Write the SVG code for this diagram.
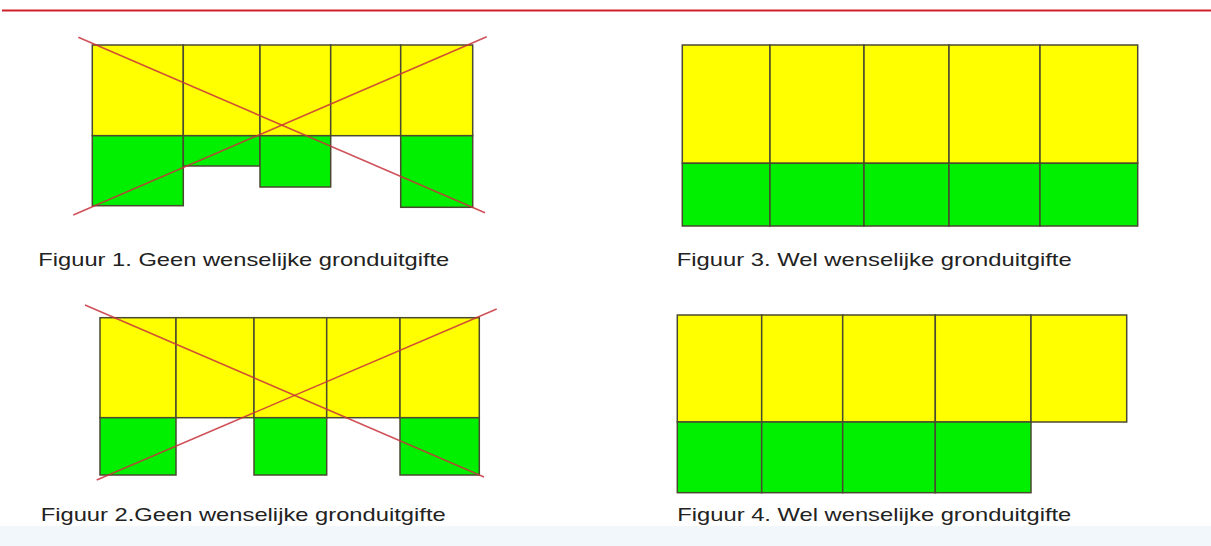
<svg xmlns="http://www.w3.org/2000/svg" width="1211" height="546" viewBox="0 0 1211 546">
  <style>
    .y { fill: #ffff00; stroke: #4a4a30; stroke-width: 1.5; }
    .g { fill: #00f000; stroke: #4a4a30; stroke-width: 1.5; }
    .x { stroke: #c8323c; stroke-width: 1.6; stroke-opacity: 0.85; fill: none; }
    .t { font-family: "Liberation Sans", Arial, sans-serif; font-size: 19px; fill: #222222; }
  </style>
  <rect x="0" y="0" width="1211" height="546" fill="#ffffff"/>
  <rect x="0" y="526" width="1211" height="20" fill="#f2f7fb"/>
  <line x1="2" y1="10.5" x2="1211" y2="10.5" stroke="#d0202c" stroke-width="2"/>

  <g id="figuur1">
    <rect class="y" x="92.3" y="45" width="91" height="90.7"/>
    <rect class="y" x="183.3" y="45" width="76.7" height="90.7"/>
    <rect class="y" x="260" y="45" width="70.7" height="90.7"/>
    <rect class="y" x="330.7" y="45" width="70" height="90.7"/>
    <rect class="y" x="400.7" y="45" width="72" height="90.7"/>
    <rect class="g" x="92.3" y="135.7" width="91" height="70"/>
    <rect class="g" x="183.3" y="135.7" width="76.7" height="30.3"/>
    <rect class="g" x="260" y="135.7" width="70.7" height="51.3"/>
    <rect class="g" x="400.7" y="135.7" width="72" height="71.6"/>
    <line class="x" x1="78.3" y1="37.3" x2="485" y2="212.7"/>
    <line class="x" x1="73.3" y1="215" x2="486.7" y2="36.7"/>
    <text class="t" x="38.3" y="266" textLength="411" lengthAdjust="spacingAndGlyphs">Figuur 1. Geen wenselijke gronduitgifte</text>
  </g>

  <g id="figuur2">
    <rect class="y" x="100" y="317.7" width="76" height="100"/>
    <rect class="y" x="176" y="317.7" width="78" height="100"/>
    <rect class="y" x="254" y="317.7" width="72.7" height="100"/>
    <rect class="y" x="326.7" y="317.7" width="73.3" height="100"/>
    <rect class="y" x="400" y="317.7" width="79.3" height="100"/>
    <rect class="g" x="100" y="417.7" width="76" height="57.3"/>
    <rect class="g" x="254" y="417.7" width="72.7" height="57.3"/>
    <rect class="g" x="400" y="417.7" width="79.3" height="57.3"/>
    <line class="x" x1="85" y1="305" x2="484" y2="477"/>
    <line class="x" x1="96.7" y1="480" x2="496.7" y2="309"/>
    <text class="t" x="40.7" y="520.7" textLength="405" lengthAdjust="spacingAndGlyphs">Figuur 2.Geen wenselijke gronduitgifte</text>
  </g>

  <g id="figuur3">
    <rect class="y" x="682.3" y="45" width="87.7" height="118.3"/>
    <rect class="y" x="770" y="45" width="94" height="118.3"/>
    <rect class="y" x="864" y="45" width="85" height="118.3"/>
    <rect class="y" x="949" y="45" width="91" height="118.3"/>
    <rect class="y" x="1040" y="45" width="97.7" height="118.3"/>
    <rect class="g" x="682.3" y="163.3" width="87.7" height="62.7"/>
    <rect class="g" x="770" y="163.3" width="94" height="62.7"/>
    <rect class="g" x="864" y="163.3" width="85" height="62.7"/>
    <rect class="g" x="949" y="163.3" width="91" height="62.7"/>
    <rect class="g" x="1040" y="163.3" width="97.7" height="62.7"/>
    <text class="t" x="676.7" y="266" textLength="395" lengthAdjust="spacingAndGlyphs">Figuur 3. Wel wenselijke gronduitgifte</text>
  </g>

  <g id="figuur4">
    <rect class="y" x="677.3" y="315" width="84.4" height="107"/>
    <rect class="y" x="761.7" y="315" width="81" height="107"/>
    <rect class="y" x="842.7" y="315" width="92.6" height="107"/>
    <rect class="y" x="935.3" y="315" width="95.7" height="107"/>
    <rect class="y" x="1031" y="315" width="95.7" height="107"/>
    <rect class="g" x="677.3" y="422" width="84.4" height="70.7"/>
    <rect class="g" x="761.7" y="422" width="81" height="70.7"/>
    <rect class="g" x="842.7" y="422" width="92.6" height="70.7"/>
    <rect class="g" x="935.3" y="422" width="95.7" height="70.7"/>
    <text class="t" x="677.3" y="520.7" textLength="394" lengthAdjust="spacingAndGlyphs">Figuur 4. Wel wenselijke gronduitgifte</text>
  </g>
</svg>
